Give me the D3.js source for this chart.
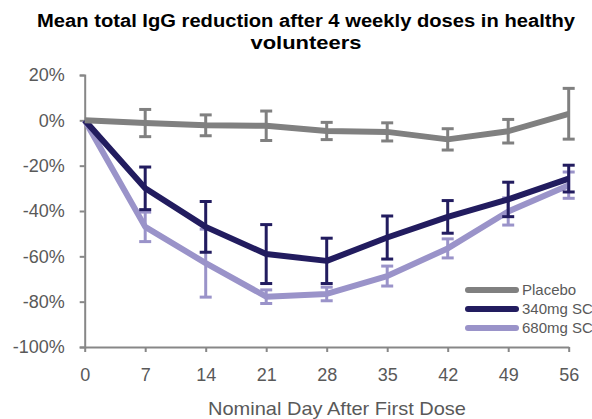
<!DOCTYPE html>
<html lang="en">
<head>
    <meta charset="UTF-8">
    <title>IgG reduction</title>
    <script src="https://d3js.org/d3.v7.min.js"></script>
    <style>
        body { margin: 0; background: #fff; }
        svg { display: block; font-family: "Liberation Sans", Arial, sans-serif; }
    </style>
</head>
<body>
    <svg></svg>
<script>

    // nominal days and the three series (mean % change, +/- error)
    const days = [0, 7, 14, 21, 28, 35, 42, 49, 56];
    const placeboMean = [0, -1.2, -2.2, -2.4, -4.7, -5.1, -8.4, -4.8, 2.9];
    const placeboErr = [null, 6, 4.6, 6.5, 3.8, 4, 4.7, 5.2, 11.2];
    const mg340Mean = [0, -30, -47, -59, -62, -51.7, -42.6, -34.9, -25.7];
    const mg340Err = [null, 9.4, 11.2, 13, 10, 9.5, 7.2, 7.6, 5.9];
    const mg680Mean = [0, -47, -63, -77.8, -76.6, -68.7, -56.5, -40.2, -28.6];
    const mg680Err = [null, 6.5, 15, 3, 3, 4.4, 4.2, 6, 5.8];
    const yTicks = [20, 0, -20, -40, -60, -80, -100];

    const width = 592;
    const height = 419;
    const svg = d3.select("svg")
        .attr("width", width)
        .attr("height", height);

    const series = [
        { name: "680mg SC", mean: mg680Mean, err: mg680Err, color: "#9a93c9" },
        { name: "340mg SC", mean: mg340Mean, err: mg340Err, color: "#221c5f" },
        { name: "Placebo", mean: placeboMean, err: placeboErr, color: "#808080" }
    ];
    const legendOrder = ["Placebo", "340mg SC", "680mg SC"];

    const x = d3.scaleLinear().domain([0, 56]).range([84.7, 568.7]);
    const y = d3.scaleLinear().domain([-100, 20]).range([347, 75]);

    // title (original text is a bit wider than Liberation, so stretch it)
    const titleLines = [
        { text: "Mean total IgG reduction after 4 weekly doses in healthy", len: 538 },
        { text: "volunteers", len: 111 }
    ];
    svg.append("g")
        .selectAll("text")
        .data(titleLines)
        .join("text")
        .attr("x", 306)
        .attr("y", (d, i) => 27 + i * 22)
        .attr("text-anchor", "middle")
        .attr("textLength", d => d.len)
        .attr("lengthAdjust", "spacingAndGlyphs")
        .style("font-weight", "bold")
        .style("font-size", "18px")
        .style("fill", "#000")
        .text(d => d.text);

    // axes
    const axisColor = "#878787";
    const yAxis = d3.axisLeft(y)
        .tickValues(yTicks)
        .tickSize(5)
        .tickPadding(15)
        .tickFormat(d => d + "%");
    svg.append("g")
        .attr("transform", `translate(${x(0)},0)`)
        .call(yAxis)
        .call(g => g.select(".domain").attr("stroke", axisColor).attr("stroke-width", 2))
        .call(g => g.selectAll(".tick line").attr("stroke", axisColor).attr("stroke-width", 2))
        .call(g => g.selectAll(".tick text").style("font-size", "18px").attr("fill", "#595959")
            .style("font-family", "'Liberation Sans', Arial, sans-serif"));

    const xAxis = d3.axisBottom(x)
        .tickValues(days)
        .tickSize(5)
        .tickPadding(16)
        .tickSizeOuter(0);
    svg.append("g")
        .attr("transform", `translate(0,${y(-100)})`)
        .call(xAxis)
        .call(g => g.select(".domain").attr("stroke", axisColor).attr("stroke-width", 2))
        .call(g => g.selectAll(".tick line").attr("stroke", axisColor).attr("stroke-width", 2))
        .call(g => g.selectAll(".tick text").style("font-size", "18px").attr("fill", "#595959")
            .style("font-family", "'Liberation Sans', Arial, sans-serif"));

    svg.append("text")
        .attr("x", 337)
        .attr("y", 415)
        .attr("text-anchor", "middle")
        .attr("textLength", 258)
        .attr("lengthAdjust", "spacingAndGlyphs")
        .style("font-size", "19px")
        .style("fill", "#595959")
        .text("Nominal Day After First Dose");

    // lines + error bars
    const line = d3.line()
        .x((d, i) => x(days[i]))
        .y(d => y(d));

    const capW = 6;
    series.forEach(s => {
        const g = svg.append("g");
        g.append("path")
            .datum(s.mean)
            .attr("d", line)
            .attr("fill", "none")
            .attr("stroke", s.color)
            .attr("stroke-width", 6)
            .attr("stroke-linejoin", "round");

        const bars = days.map((d, i) => ({ day: d, m: s.mean[i], e: s.err[i] }))
            .filter(d => d.e != null);
        const eb = g.selectAll(".eb")
            .data(bars)
            .join("g")
            .attr("class", "eb")
            .attr("stroke", s.color)
            .attr("stroke-width", 3);
        eb.append("line")
            .attr("x1", d => x(d.day)).attr("x2", d => x(d.day))
            .attr("y1", d => y(d.m + d.e)).attr("y2", d => y(d.m - d.e));
        eb.append("line")
            .attr("x1", d => x(d.day) - capW).attr("x2", d => x(d.day) + capW)
            .attr("y1", d => y(d.m + d.e)).attr("y2", d => y(d.m + d.e));
        eb.append("line")
            .attr("x1", d => x(d.day) - capW).attr("x2", d => x(d.day) + capW)
            .attr("y1", d => y(d.m - d.e)).attr("y2", d => y(d.m - d.e));
    });

    // legend
    const legend = svg.append("g")
        .selectAll("g")
        .data(legendOrder.map(n => series.find(s => s.name === n)))
        .join("g")
        .attr("transform", (d, i) => `translate(468,${290 + i * 19})`);
    legend.append("line")
        .attr("x1", 0).attr("x2", 48)
        .attr("stroke", d => d.color)
        .attr("stroke-width", 6)
        .attr("stroke-linecap", "round");
    legend.append("text")
        .attr("x", 54)
        .attr("dy", "0.35em")
        .style("font-size", "15px")
        .style("fill", "#595959")
        .text(d => d.name);

</script>
</body>
</html>
